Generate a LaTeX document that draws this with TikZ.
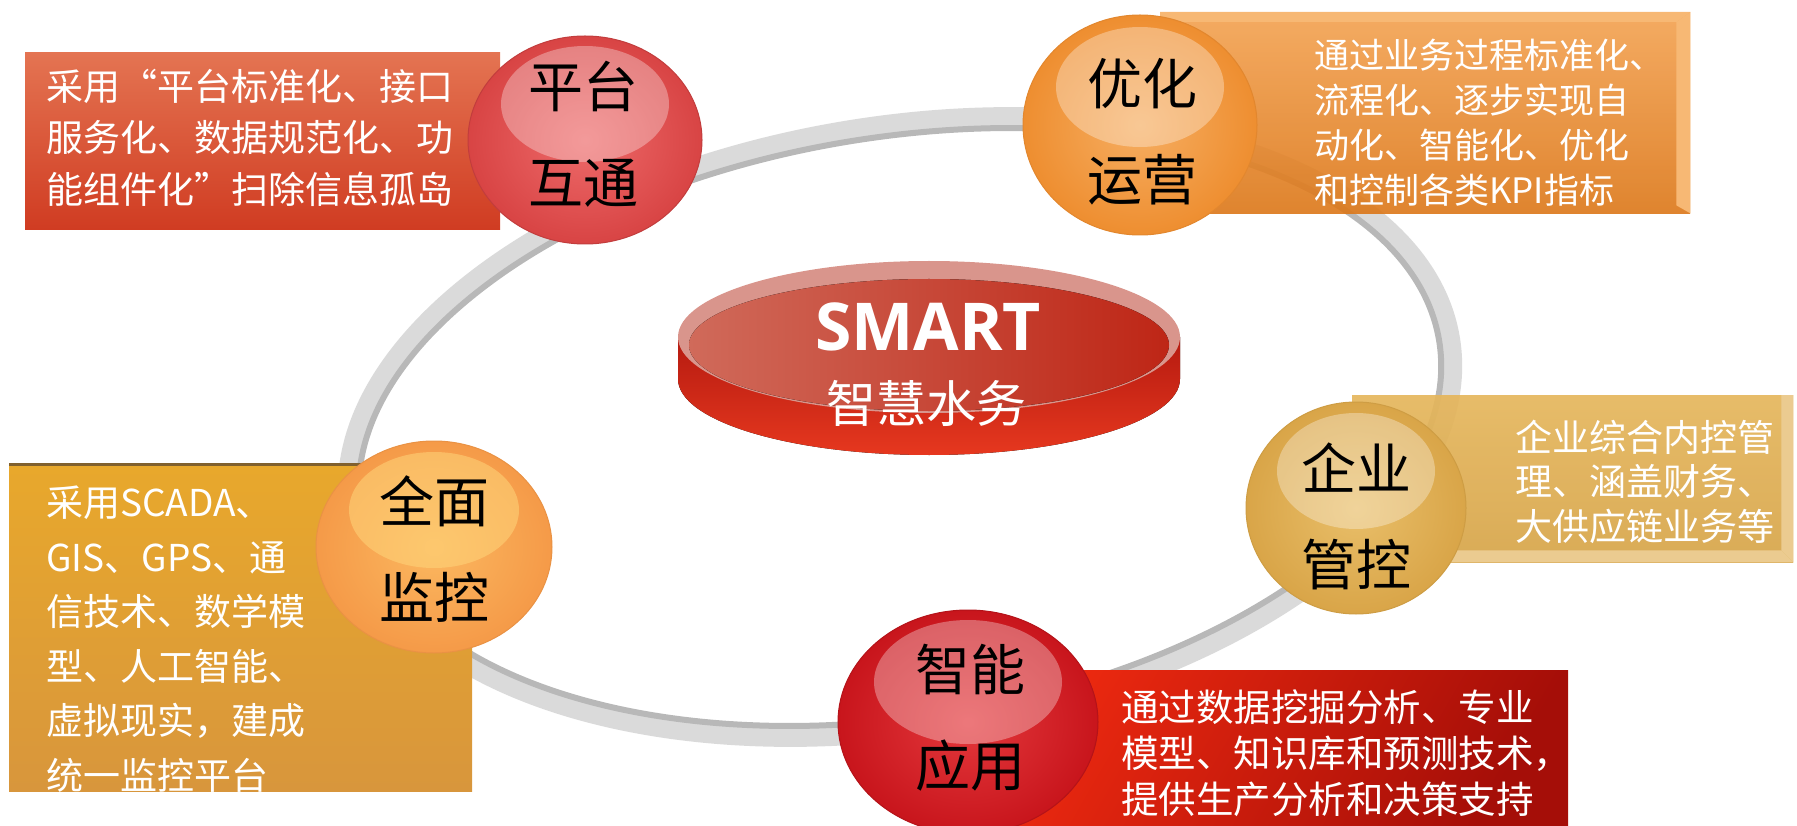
\documentclass[tikz,border=0pt]{standalone}
\usepackage{fontspec}
\setmainfont{Noto Sans CJK SC}
\newfontfamily\smartfont{Open Sans}
\usetikzlibrary{shapes.geometric}

\definecolor{ringgray}{HTML}{DADADA}
\definecolor{ringdark}{HTML}{B8B8B8}
\definecolor{diskside1}{HTML}{B51A10}
\definecolor{diskside2}{HTML}{E6381F}
\definecolor{diskrim}{HTML}{D9958C}
\definecolor{diskface1}{HTML}{D06A5A}
\definecolor{diskface2}{HTML}{BE2616}
\definecolor{ptboxtop}{HTML}{E47452}
\definecolor{ptboxbot}{HTML}{D03C22}
\definecolor{yhboxtop}{HTML}{F3A251}
\definecolor{yhboxbot}{HTML}{DC7718}
\definecolor{yhbevel}{HTML}{F7B874}
\definecolor{qyboxtop}{HTML}{E5B65C}
\definecolor{qyboxbot}{HTML}{D6A448}
\definecolor{qybevel}{HTML}{EBCB90}
\definecolor{znboxtop}{HTML}{EF2A10}
\definecolor{znboxbot}{HTML}{A50E08}
\definecolor{qmboxtop}{HTML}{E8A82C}
\definecolor{qmboxbot}{HTML}{D8963C}
\definecolor{qmedge}{HTML}{80602E}
\definecolor{ptred}{HTML}{D84444}
\definecolor{ptlight}{HTML}{EE6A6A}
\definecolor{yhorange}{HTML}{EE8E30}
\definecolor{yhlight}{HTML}{F6AE62}
\definecolor{qygold}{HTML}{D9A548}
\definecolor{qylight}{HTML}{E9BF6A}
\definecolor{qmorange}{HTML}{F59A48}
\definecolor{qmlight}{HTML}{FBB860}
\definecolor{qmshine}{HTML}{FFD57A}
\definecolor{znred}{HTML}{C8151C}
\definecolor{znlight}{HTML}{E4383C}

\tikzset{
  orb/.style={ellipse, inner sep=0pt, line width=1pt},
  shine/.style={fill=white, fill opacity=.32},
  orblabel/.style={font=\fontsize{55}{96}\selectfont, align=center, inner sep=0pt},
  panel/.style={rectangle, inner sep=0pt, anchor=north west},
  note/.style={text=white, align=left, anchor=west, inner sep=0pt},
  ringline/.style={line width=22pt, draw=ringgray},
}

\begin{document}
\begin{tikzpicture}[x=1pt, y=-1pt]
\useasboundingbox (0,0) rectangle (1797,826);

% ring
\draw[ringline, rotate around={9:(900,427)}] (900,427) ellipse [x radius=556, y radius=300];
\draw[line width=6pt, draw=ringdark, rotate around={9:(900,427)}] (900,427) ellipse [x radius=546, y radius=290];

% centre disk
\fill[top color=diskside1, bottom color=diskside2] (678,337) -- (678,379) arc[start angle=180, end angle=0, x radius=251, y radius=76] -- (1180,337) -- cycle;
\fill[diskrim] (929,337) ellipse [x radius=251, y radius=76];
\fill[left color=diskface1, right color=diskface2] (929,345) ellipse [x radius=240, y radius=66];
\node[font=\smartfont\bfseries\fontsize{66}{66}\selectfont, text=white, inner sep=0pt] (smart) at (928,327) {SMART};
\node[font=\fontsize{50}{50}\selectfont, text=white, inner sep=0pt] (smartcn) at (926,403) {智慧水务};

% boxes
\node[panel, minimum width=475pt, minimum height=177pt, top color=ptboxtop, bottom color=ptboxbot] (ptbox) at (25,52) {};
\node[panel, minimum width=530pt, minimum height=201pt, top color=yhboxtop, bottom color=yhboxbot, fill opacity=.9] (yhbox) at (1160,12) {};
\fill[yhbevel] (yhbox.north west) -- (yhbox.north east) -- ([xshift=-14pt,yshift=-10pt]yhbox.north east) -- ([yshift=-10pt]yhbox.north west) -- cycle;
\fill[yhbevel] (yhbox.north east) -- (yhbox.south east) -- ([xshift=-14pt,yshift=8pt]yhbox.south east) -- ([xshift=-14pt,yshift=-10pt]yhbox.north east) -- cycle;
\node[panel, minimum width=441pt, minimum height=167pt, top color=qyboxtop, bottom color=qyboxbot, fill opacity=.92] (qybox) at (1352,395) {};
\fill[qybevel] (qybox.north east) -- (qybox.south east) -- ([xshift=-12pt,yshift=12pt]qybox.south east) -- ([xshift=-12pt]qybox.north east) -- cycle;
\fill[qybevel] (qybox.south west) -- (qybox.south east) -- ([xshift=-12pt,yshift=12pt]qybox.south east) -- ([yshift=12pt]qybox.south west) -- cycle;
\node[panel, minimum width=605pt, minimum height=160pt, shading=axis, left color=znboxtop, right color=znboxbot, shading angle=60] (znbox) at (963,670) {};
\node[panel, minimum width=463pt, minimum height=327pt, top color=qmboxtop, bottom color=qmboxbot] (qmbox) at (9,464) {};
\draw[qmedge, line width=3pt] (qmbox.north west) -- (qmbox.north east);

% texts in the boxes
\node[note, font=\fontsize{37}{51.5}\selectfont] (ptnote) at (46,137.5) {采用“平台标准化、接口\\服务化、数据规范化、功\\能组件化”扫除信息孤岛};
\node[note, font=\fontsize{35}{45}\selectfont] (yhnote) at (1314,122.5) {通过业务过程标准化、\\流程化、逐步实现自\\动化、智能化、优化\\和控制各类KPI指标};
\node[note, font=\fontsize{37}{44.5}\selectfont] (qynote) at (1515,481.5) {企业综合内控管\\理、涵盖财务、\\大供应链业务等};
\node[note, font=\fontsize{37.5}{46}\selectfont] (znnote) at (1121,753) {通过数据挖掘分析、专业\\模型、知识库和预测技术，\\提供生产分析和决策支持};
\node[note, font=\fontsize{37}{54.5}\selectfont] (qmnote) at (46,639) {采用SCADA、\\GIS、GPS、通\\信技术、数学模\\型、人工智能、\\虚拟现实，建成\\统一监控平台};

% balls
\node[orb, minimum width=234pt, minimum height=208pt, draw=ptred!90!black, inner color=ptlight, outer color=ptred] (ptball) at (585,140) {};
\fill[shine] ([yshift=36pt]ptball.center) ellipse [x radius=84, y radius=58];
\node[orb, minimum width=234pt, minimum height=220pt, draw=yhorange!95!black, inner color=yhlight, outer color=yhorange] (yhball) at (1140,125) {};
\fill[shine] ([yshift=38pt]yhball.center) ellipse [x radius=84, y radius=60];
\node[orb, minimum width=220pt, minimum height=212pt, draw=qygold!95!black, inner color=qylight, outer color=qygold] (qyball) at (1356,508) {};
\fill[shine] ([yshift=37pt]qyball.center) ellipse [x radius=79, y radius=58];
\node[orb, minimum width=236pt, minimum height=212pt, draw=qmorange!95!black, inner color=qmlight, outer color=qmorange] (qmball) at (434,547) {};
\fill[fill=qmshine, fill opacity=.55] ([yshift=37pt]qmball.center) ellipse [x radius=85, y radius=58];
\node[orb, minimum width=260pt, minimum height=224pt, draw=znred!90!black, inner color=znlight, outer color=znred] (znball) at (968,722) {};
\fill[shine] ([yshift=40pt]znball.center) ellipse [x radius=94, y radius=62];

\node[orblabel] (ptlabel) at (583,134) {平台\\互通};
\node[orblabel] (yhlabel) at (1142,132) {优化\\运营};
\node[orblabel] (qylabel) at (1356,516) {企业\\管控};
\node[orblabel] (qmlabel) at (434,549) {全面\\监控};
\node[orblabel] (znlabel) at (970,718) {智能\\应用};
\end{tikzpicture}
\end{document}
